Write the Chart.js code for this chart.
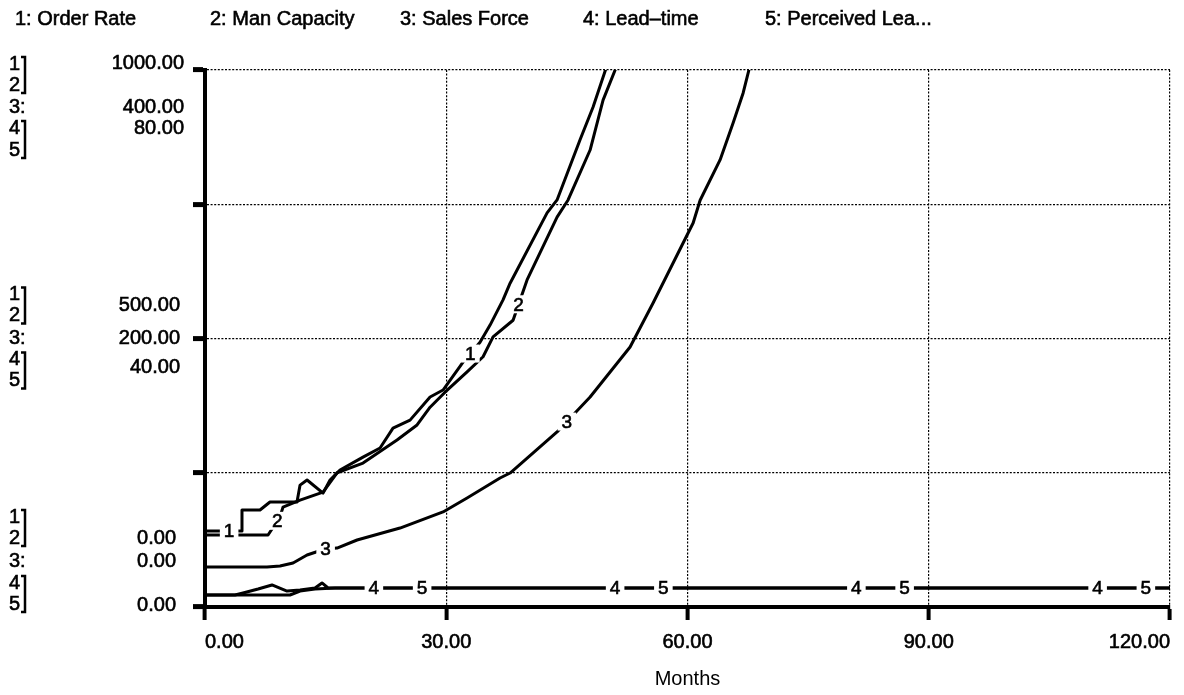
<!DOCTYPE html>
<html>
<head>
<meta charset="utf-8">
<script src="https://cdn.jsdelivr.net/npm/chart.js@4.4.1/dist/chart.umd.min.js"></script>
<style>
  html, body { margin: 0; padding: 0; background: #fff; }
  #wrap { width: 1184px; height: 695px; }
</style>
</head>
<body>
<div id="wrap"><canvas id="myChart" width="1184" height="695"></canvas></div>
<script>
// series titles, in STELLA order
var seriesNames = ['Order Rate', 'Man Capacity', 'Sales Force', 'Lead\u2013time', 'Perceived Lea...'];

// scale tops: series 1&2, series 3, series 4&5
var scaleTops = [1000, 400, 80];
var monthTicks = [0, 30, 60, 90, 120];

// 1: Order Rate
var orderMonths = [0, 4.48, 4.6, 6.84, 8.08, 11.44, 11.82, 12.69, 14.68, 15.55, 16.79, 19.65, 21.77, 23.38, 25.5, 27.99, 29.6, 32.09, 34.2, 35.45, 37.06, 37.94, 42.54, 43.78, 46.64, 48.26, 50, 50.6];
var orderRate   = [141.5, 141.5, 180.6, 180.6, 195.5, 195.5, 227, 236.5, 212, 236.5, 255, 279, 296, 333, 348, 391, 404, 456, 493, 525, 572, 603, 734, 758, 870, 931, 1009, 1047];

// 2: Man Capacity
var capMonths   = [0, 7.84, 9.33, 9.7, 11.82, 14.68, 16.42, 19.65, 23.88, 26.37, 27.99, 29.85, 32.59, 34.58, 35.82, 38.31, 40.05, 43.78, 45.15, 47.89, 49.5, 51.24, 51.87];
var manCapacity = [134, 134, 168, 186, 199, 214, 250, 268, 311, 339, 372, 400, 438, 466, 503, 534, 609, 726, 758, 851, 944, 1009, 1047];

// 3: Sales Force
var salesMonths = [0, 7.71, 9.33, 10.95, 12.69, 14.93, 16.42, 18.91, 24.25, 29.6, 32.59, 36.69, 37.94, 43.78, 47.89, 52.86, 55.72, 60.7, 61.57, 64.05, 65.67, 66.92, 67.79, 68.5];
var salesForce  = [29.8, 29.8, 30.5, 32.8, 38.7, 43.2, 43.9, 49.9, 58.8, 70.8, 81.2, 96.1, 99.8, 130.4, 156.4, 193.7, 226.4, 286, 303, 333, 360.5, 382.9, 403.7, 418];

// 4: Lead-time
var leadMonths = [0, 3.73, 4.73, 6.6, 8.33, 10.2, 11.82, 13.68, 14.55, 15.3, 120];
var leadTime   = [1.79, 1.79, 2.09, 2.68, 3.28, 2.38, 2.53, 2.83, 3.58, 2.83, 2.83];

// 5: Perceived Lead-time
var percMonths    = [0, 10.57, 11.82, 13.68, 16.17, 120];
var perceivedLead = [1.79, 1.79, 2.38, 2.68, 2.83, 2.83];

// months where STELLA writes the series number on its curve
var labelMonths = [[3, 33], [9, 39], [15, 45], [21, 51, 81, 111], [27, 57, 87, 117]];

var FONT = '"Liberation Sans", Arial, Helvetica, sans-serif';

var curves = [
  { xs: orderMonths, ys: orderRate, axis: 'y' },
  { xs: capMonths, ys: manCapacity, axis: 'y' },
  { xs: salesMonths, ys: salesForce, axis: 'y3' },
  { xs: leadMonths, ys: leadTime, axis: 'y45' },
  { xs: percMonths, ys: perceivedLead, axis: 'y45' }
];

function toPoints(xs, ys) {
  var pts = [];
  for (var i = 0; i < xs.length; i++) pts.push({ x: xs[i], y: ys[i] });
  return pts;
}

function valueAt(xs, ys, t) {
  for (var i = 1; i < xs.length; i++) {
    if (t <= xs[i]) {
      var f = (t - xs[i - 1]) / (xs[i] - xs[i - 1]);
      return ys[i - 1] + f * (ys[i] - ys[i - 1]);
    }
  }
  return ys[ys.length - 1];
}

// scanned look: fill plus a thin stroke
function heavyText(ctx, txt, x, y) {
  ctx.fillText(txt, x, y);
  ctx.strokeText(txt, x, y);
}

function drawBracket(ctx, x, y1, y2) {
  ctx.lineWidth = 2.5;
  ctx.beginPath();
  ctx.moveTo(x - 4, y1);
  ctx.lineTo(x, y1);
  ctx.lineTo(x, y2);
  ctx.lineTo(x - 4, y2);
  ctx.stroke();
}

var stellaText = {
  id: 'stellaText',
  afterDatasetsDraw: function(chart) {
    var ctx = chart.ctx;
    var area = chart.chartArea;
    var xs = chart.scales.x;
    ctx.save();
    ctx.font = '19px ' + FONT;
    ctx.textAlign = 'center';
    ctx.textBaseline = 'middle';
    ctx.strokeStyle = '#000';
    ctx.lineWidth = 0.6;
    curves.forEach(function(c, i) {
      labelMonths[i].forEach(function(t) {
        var v = valueAt(c.xs, c.ys, t);
        var px = xs.getPixelForValue(t);
        var py = chart.scales[c.axis].getPixelForValue(v);
        if (py < area.top + 8) return;
        var txt = String(i + 1);
        var w = ctx.measureText(txt).width + 8;
        ctx.fillStyle = '#fff';
        ctx.fillRect(px - w / 2, py - 9, w, 18);
        ctx.fillStyle = '#000';
        heavyText(ctx, txt, px, py + 1);
      });
    });
    ctx.restore();
  },
  afterDraw: function(chart) {
    var ctx = chart.ctx;
    var y = chart.scales.y;
    ctx.save();
    ctx.fillStyle = '#000';
    ctx.strokeStyle = '#000';
    ctx.textBaseline = 'middle';

    // titles across the top
    ctx.font = '20px ' + FONT;
    ctx.lineWidth = 0.6;
    ctx.textAlign = 'left';
    var titleX = [15, 210, 400, 583, 765];
    seriesNames.forEach(function(n, i) {
      heavyText(ctx, (i + 1) + ': ' + n, titleX[i], 19);
    });

    // stacked scale labels on the left
    var groups = [
      { frac: 1,   right: 184, rows: [-6, 15, 37, 58, 80],      vals: [-7, 37, 58] },
      { frac: 0.5, right: 180, rows: [-44, -23, 0, 21, 42],    vals: [-33, 0, 29] },
      { frac: 0,   right: 176, rows: [-90, -69, -46, -24, -3], vals: [-69, -46, -2] }
    ];
    groups.forEach(function(g) {
      var base = y.getPixelForValue(scaleTops[0] * g.frac);
      ctx.font = '20px ' + FONT;
      ctx.lineWidth = 0.6;
      ctx.textAlign = 'left';
      var marks = ['1', '2', '3:', '4', '5'];
      marks.forEach(function(m, k) {
        heavyText(ctx, m, 9, base + g.rows[k]);
      });
      drawBracket(ctx, 25, base + g.rows[0] - 7, base + g.rows[1] + 8);
      drawBracket(ctx, 25, base + g.rows[3] - 7, base + g.rows[4] + 8);
      ctx.lineWidth = 0.6;
      ctx.textAlign = 'right';
      scaleTops.forEach(function(top, k) {
        heavyText(ctx, (top * g.frac).toFixed(2), g.right, base + g.vals[k]);
      });
    });
    ctx.restore();
  }
};

var gridStyle = {
  color: '#000',
  lineWidth: 1.2,
  tickLength: 12,
  tickWidth: 4,
  tickColor: '#000'
};

var myChart = new Chart(document.getElementById('myChart').getContext('2d'), {
  type: 'line',
  data: {
    datasets: curves.map(function(c, i) {
      return {
        label: seriesNames[i],
        data: toPoints(c.xs, c.ys),
        yAxisID: c.axis,
        borderColor: '#000',
        borderWidth: 3,
        borderJoinStyle: 'round',
        pointRadius: 0,
        tension: 0,
        fill: false
      };
    })
  },
  options: {
    responsive: false,
    animation: false,
    devicePixelRatio: 1,
    layout: { padding: { left: 0, top: 70, right: 14, bottom: 0 } },
    plugins: {
      legend: { display: false },
      tooltip: { enabled: false }
    },
    scales: {
      x: {
        type: 'linear',
        position: 'bottom',
        min: monthTicks[0],
        max: monthTicks[monthTicks.length - 1],
        afterBuildTicks: function(scale) {
          scale.ticks = monthTicks.map(function(v) { return { value: v }; });
        },
        afterFit: function(scale) { scale.height = 88; },
        grid: Object.assign({}, gridStyle, { tickLength: 13 }),
        border: { display: true, width: 4, color: '#000', dash: [2, 1.6] },
        ticks: {
          color: '#000',
          font: { family: FONT, size: 20 },
          textStrokeColor: '#000',
          textStrokeWidth: 0.6,
          padding: 10,
          align: 'inner',
          maxRotation: 0,
          autoSkip: false,
          callback: function(v) { return Number(v).toFixed(2); }
        },
        title: {
          display: true,
          text: 'Months',
          color: '#000',
          font: { family: FONT, size: 20 },
          padding: { top: 0, bottom: 4 }
        }
      },
      y: {
        position: 'left',
        min: 0,
        max: scaleTops[0],
        afterFit: function(scale) { scale.width = 205; },
        grid: Object.assign({}, gridStyle, { tickWidth: 5 }),
        border: { display: true, width: 4, color: '#000', dash: [2, 1.6] },
        ticks: { display: false, stepSize: scaleTops[0] / 4 }
      },
      y3: { display: false, min: 0, max: scaleTops[1] },
      y45: { display: false, min: 0, max: scaleTops[2] }
    }
  },
  plugins: [stellaText]
});
</script>
</body>
</html>
